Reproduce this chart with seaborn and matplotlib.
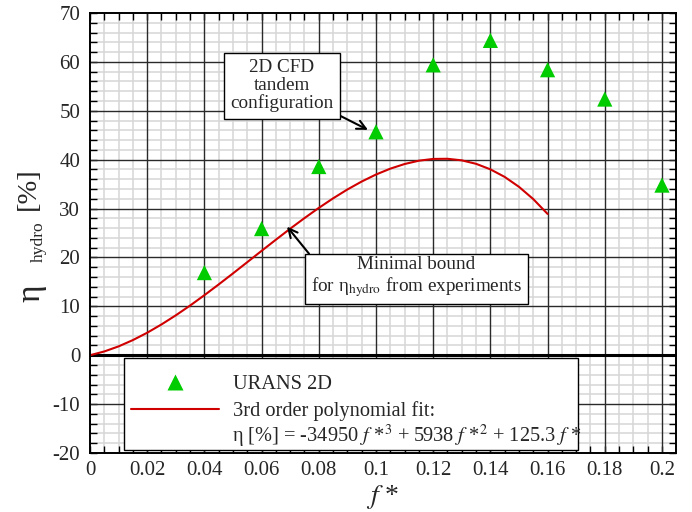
import numpy as np
import pandas as pd
import matplotlib
matplotlib.use("Agg")
import matplotlib.pyplot as plt
from matplotlib.ticker import MultipleLocator
from matplotlib.lines import Line2D
from matplotlib.patches import Rectangle
import seaborn as sns

# ---- data ----
f_cfd = [0.04, 0.06, 0.08, 0.10, 0.12, 0.14, 0.16, 0.18, 0.20]
eta_cfd = [16.9, 25.9, 38.6, 45.7, 59.4, 64.4, 58.4, 52.4, 34.8]

f_fit = [0.000, 0.005, 0.010, 0.015, 0.020, 0.025, 0.030, 0.035, 0.040,
         0.045, 0.050, 0.055, 0.060, 0.065, 0.070, 0.075, 0.080, 0.085,
         0.090, 0.095, 0.100, 0.105, 0.110, 0.115, 0.120, 0.125, 0.130,
         0.135, 0.140, 0.145, 0.150, 0.155, 0.160]
eta_fit = [0.0, 0.77, 1.81, 3.10, 4.60, 6.30, 8.16, 10.16, 12.28,
           14.48, 16.74, 19.04, 21.35, 23.63, 25.88, 28.05, 30.13, 32.09,
           33.90, 35.53, 36.96, 38.16, 39.11, 39.79, 40.15, 40.18, 39.86,
           39.15, 38.02, 36.47, 34.44, 31.93, 28.90]

x_ticks = [0, 0.02, 0.04, 0.06, 0.08, 0.1, 0.12, 0.14, 0.16, 0.18, 0.2]
y_ticks = [-20, -10, 0, 10, 20, 30, 40, 50, 60, 70]

legend_labels = ["URANS 2D", "3rd order polynomial fit:"]
formula_text = "η [%] = -34950 $f$ *$^{3}$ + 5938 $f$ *$^{2}$ + 125.3 $f$ *"

df_cfd = pd.DataFrame({"f": f_cfd, "eta": eta_cfd})
df_fit = pd.DataFrame({"f": f_fit, "eta": eta_fit})

# ---- style ----
sns.set_theme(style="white")
plt.rcParams["font.family"] = ["Liberation Serif", "DejaVu Serif"]
plt.rcParams["mathtext.fontset"] = "stix"

GREEN = "#00cc00"
RED = "#d00000"

fig = plt.figure(figsize=(6.92, 5.12), dpi=100)
ax = fig.add_axes([90 / 692, 59 / 512, 586 / 692, 440 / 512])

ax.set_xlim(0, 0.2049)
ax.set_ylim(-20, 70)

ax.xaxis.set_minor_locator(MultipleLocator(0.005))
ax.yaxis.set_minor_locator(MultipleLocator(2))
ax.set_xticks(x_ticks)
ax.set_xticklabels([("%g" % v) for v in x_ticks])
ax.set_yticks(y_ticks)
ax.set_yticklabels([("%g" % v) for v in y_ticks])

# minor grid (light) below, major grid (dark) above it
ax.grid(which="minor", color="#d6d6d6", lw=1.1, zorder=0)
ax.grid(which="major", visible=False)
for xv in x_ticks[1:]:
    ax.axvline(xv, color="#2a2a2a", lw=1.0, zorder=0.8)
for yv in y_ticks[1:-1]:
    ax.axhline(yv, color="#2a2a2a", lw=1.0, zorder=0.8)
ax.set_axisbelow(True)

ax.axhline(0, color="black", lw=2.2, zorder=1)

sns.lineplot(data=df_fit, x="f", y="eta", ax=ax, color=RED, lw=1.5,
             legend=False, zorder=3)
sns.scatterplot(data=df_cfd, x="f", y="eta", ax=ax, marker="^", s=120,
                color=GREEN, edgecolor="none", legend=False, zorder=4,
                clip_on=False)

# ticks / spines
for sp in ax.spines.values():
    sp.set_color("black")
    sp.set_linewidth(1.4)
    sp.set_zorder(5)
ax.tick_params(which="both", direction="in", top=True, right=True,
               bottom=True, left=True, color="black", width=1.0, length=5)
ax.tick_params(axis="x", which="major", labelsize=15, pad=6)
ax.tick_params(axis="y", which="major", labelsize=15, pad=7)

ax.set_xlabel("$f$ *", fontsize=20, labelpad=2)
ax.set_ylabel("")
# y label built from pieces: eta, subscript "hydro", unit
fig.text(31 / 692, 1 - 293 / 512, "η", rotation=90, ha="center",
         va="center", fontsize=24)
fig.text(39 / 692, 1 - 242 / 512, "hydro", rotation=90, ha="center",
         va="center", fontsize=12.5)
fig.text(28 / 692, 1 - 189 / 512, "[%]", rotation=90, ha="center",
         va="center", fontsize=20.5)

# annotations
ax.annotate("2D CFD\ntandem\nconfiguration", xy=(0.0972, 46.1),
            xytext=(0.0671, 55.1), ha="center", va="center", fontsize=13.8,
            linespacing=1.05,
            bbox=dict(boxstyle="square,pad=0.35", fc="white", ec="black", lw=1.0),
            arrowprops=dict(arrowstyle="->", color="black", lw=1.5,
                            relpos=(1.0, 0.0), shrinkA=0, shrinkB=0,
                            mutation_scale=16),
            zorder=6)
ax.annotate("Minimal bound\nfor η$_{\\rm hydro}$ from experiments",
            xy=(0.0689, 26.3), xytext=(0.1142, 15.9), ha="center",
            va="center", fontsize=13.8, linespacing=1.1,
            bbox=dict(boxstyle="square,pad=0.3", fc="white", ec="black", lw=1.0),
            arrowprops=dict(arrowstyle="->", color="black", lw=1.5,
                            relpos=(0.0, 1.0), shrinkA=0, shrinkB=0,
                            mutation_scale=16),
            zorder=6)

# legend: frame, two entries, formula line
ax.add_patch(Rectangle((34 / 586, 3 / 440), 454 / 586, 92 / 440,
                       transform=ax.transAxes, fc="white", ec="black",
                       lw=1.0, zorder=6.5))
handles = [
    Line2D([], [], marker="^", color=GREEN, ls="none", markersize=11,
           markeredgecolor="none"),
    Line2D([], [], color=RED, lw=1.5),
]
leg = ax.legend(handles, legend_labels, loc="upper left",
                bbox_to_anchor=(41 / 586, 78 / 440), frameon=False,
                fontsize=14.7, borderpad=0.0, borderaxespad=0.0,
                handlelength=4.3, handletextpad=0.7, labelspacing=0.33)
leg.set_zorder(7)
ax.text(142 / 586, 17 / 440, formula_text, transform=ax.transAxes,
        ha="left", va="center", fontsize=14.7, zorder=7.5)

fig.savefig("out.png", dpi=100)
